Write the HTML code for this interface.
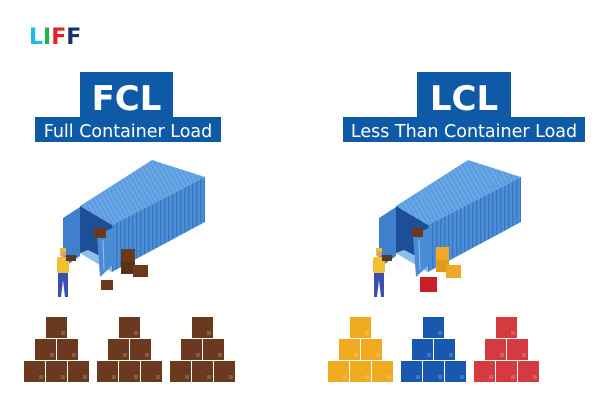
<!DOCTYPE html>
<html><head><meta charset="utf-8"><style>
html,body{margin:0;padding:0;background:#fff;}
svg{display:block;}
text{font-family:"DejaVu Sans","Liberation Sans",sans-serif;}
</style></head><body>
<svg width="600" height="400" viewBox="0 0 600 400" xmlns="http://www.w3.org/2000/svg">
<defs>
<pattern id="rib" width="4" height="10" patternUnits="userSpaceOnUse"><rect width="4" height="10" fill="#4d8fd6"/><rect width="1.5" height="10" fill="#3a78c4"/></pattern>
<pattern id="ribt" width="4" height="10" patternUnits="userSpaceOnUse" patternTransform="rotate(-30)"><rect width="4" height="10" fill="#6aa6e4"/><rect width="1.5" height="10" fill="#559ade"/></pattern>
<g id="cont">
 <polygon points="80,206 152,160 205,177 112,225" fill="url(#ribt)"/>
 <polygon points="112,225 205,177 205,222 112,272" fill="url(#rib)"/>
 <polygon points="80,206 112,225 112,272 80,253" fill="#1d4f98"/>
 <polygon points="80,253 112,272 112,262 88,250" fill="#8fc0ec"/>
 <polygon points="63,218 80,207 80,256 63,268" fill="#3f7fcc"/>
 <polygon points="97,235 115,227 115,263 100,277" fill="#4a8bd6"/>
 <line x1="103" y1="240" x2="104" y2="270" stroke="#8fc0ec" stroke-width="1"/>
</g>
<g id="worker">
 <rect x="60" y="248" width="6" height="4" fill="#f0c020"/>
 <circle cx="63" cy="254" r="3" fill="#e0a070"/>
 <rect x="57" y="257" width="12" height="16" rx="2" fill="#f0c030"/>
 <rect x="66" y="255" width="10" height="6" fill="#5a3a20"/>
 <polygon points="58,273 68,273 68,297 65,297 63,280 61,297 58,297" fill="#3a4fb0"/>
</g>
<g id="pile">
 <rect x="0" y="44" width="21" height="21"/><rect x="22" y="44" width="21" height="21"/><rect x="44" y="44" width="21" height="21"/>
 <rect x="11" y="22" width="21" height="21"/><rect x="33" y="22" width="21" height="21"/>
 <rect x="22" y="0" width="21" height="21"/>
 <g fill="#ffffff" opacity="0.18">
 <rect x="15" y="58" width="4" height="4"/><rect x="37" y="58" width="4" height="4"/><rect x="59" y="58" width="4" height="4"/>
 <rect x="26" y="36" width="4" height="4"/><rect x="48" y="36" width="4" height="4"/><rect x="37" y="14" width="4" height="4"/>
 </g>
</g>
</defs>
<text x="29" y="44" font-size="22" font-weight="bold" font-family="Liberation Sans,sans-serif"><tspan fill="#1fb8ef">L</tspan><tspan fill="#28b04a">I</tspan><tspan fill="#e82020">F</tspan><tspan fill="#1b2f6b">F</tspan></text>

<rect x="80" y="72" width="93" height="46" fill="#0e5aa7"/>
<rect x="35" y="117" width="186" height="25" fill="#0e5aa7"/>
<text x="126.5" y="110" font-size="34" font-weight="bold" fill="#fff" text-anchor="middle">FCL</text>
<text x="128" y="137" font-size="17.5" fill="#fff" text-anchor="middle">Full Container Load</text>

<rect x="417" y="72" width="94" height="46" fill="#0e5aa7"/>
<rect x="343" y="117" width="242" height="25" fill="#0e5aa7"/>
<text x="464" y="110" font-size="34" font-weight="bold" fill="#fff" text-anchor="middle">LCL</text>
<text x="464" y="137" font-size="17.5" fill="#fff" text-anchor="middle">Less Than Container Load</text>

<use href="#cont"/><use href="#worker"/>
<rect x="94" y="228" width="12" height="10" fill="#6b3a1e"/>
<rect x="121" y="249" width="14" height="13" fill="#6b3a1e"/>
<rect x="121" y="262" width="14" height="12" fill="#5a3018"/>
<rect x="133" y="265" width="15" height="12" fill="#6b3a1e"/>
<rect x="101" y="280" width="12" height="10" fill="#6b3a1e"/>

<g transform="translate(316,0)"><use href="#cont"/><use href="#worker"/></g>
<rect x="412" y="228" width="11" height="9" fill="#6b3a1e"/>
<rect x="436" y="247" width="13" height="13" fill="#f0a828"/>
<rect x="436" y="260" width="13" height="12" fill="#e09a20"/>
<rect x="446" y="265" width="15" height="13" fill="#f0a828"/>
<rect x="420" y="277" width="17" height="15" fill="#c8202a"/>

<g fill="#6b3a1e"><use href="#pile" x="24" y="317"/><use href="#pile" x="97" y="317"/><use href="#pile" x="170" y="317"/></g>
<g fill="#f0aa20"><use href="#pile" x="328" y="317"/></g>
<g fill="#1858b0"><use href="#pile" x="401" y="317"/></g>
<g fill="#d43a40"><use href="#pile" x="474" y="317"/></g>
</svg>
</body></html>
